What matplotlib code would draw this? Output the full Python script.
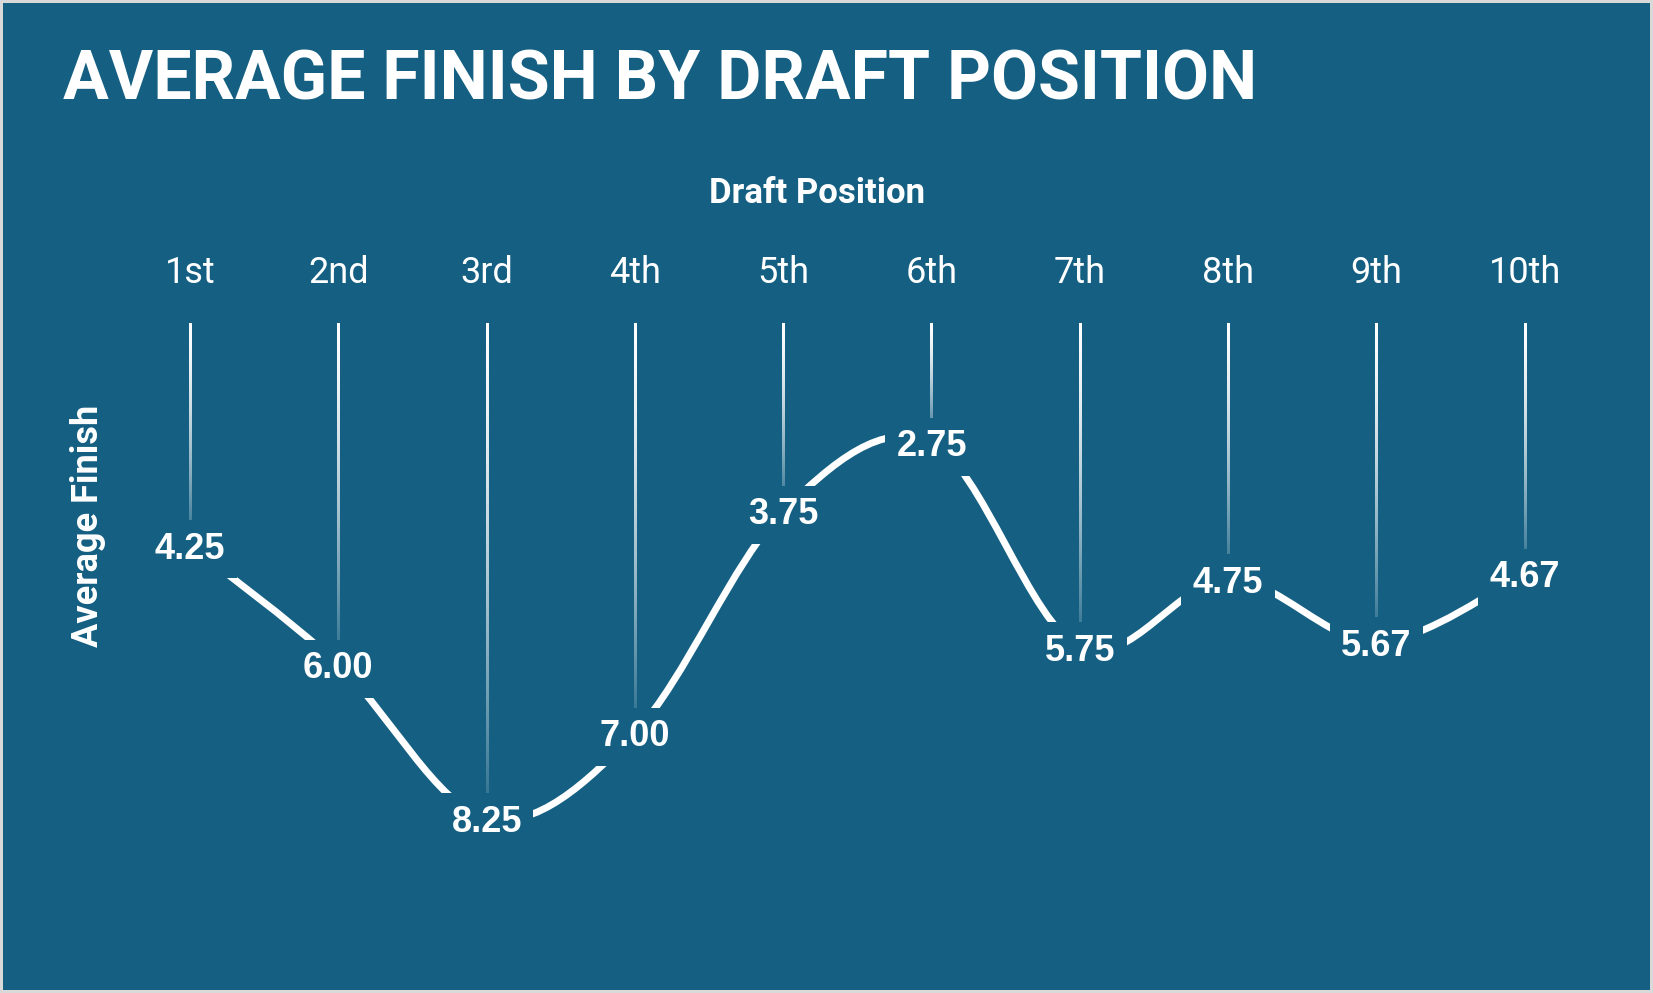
import numpy as np
import matplotlib
matplotlib.use('Agg')
import matplotlib.pyplot as plt
from matplotlib.path import Path
from matplotlib.patches import PathPatch, Rectangle

# data
positions = ['1st', '2nd', '3rd', '4th', '5th', '6th', '7th', '8th', '9th', '10th']
avg_finish = [4.25, 6.00, 8.25, 7.00, 3.75, 2.75, 5.75, 4.75, 5.67, 4.67]

BG = '#156082'
W, H = 1653, 993

fig = plt.figure(figsize=(W / 100, H / 100), dpi=100)
fig.patch.set_facecolor('#d9d9d9')
fig.add_artist(Rectangle((3 / W, 3 / H), (W - 6) / W, (H - 6) / H,
                         transform=fig.transFigure, facecolor=BG,
                         edgecolor='none', zorder=0))

ax = fig.add_axes([0.0701, 0.090, 0.8972, 0.5847])
ax.set_facecolor('none')
for s in ax.spines.values():
    s.set_visible(False)

x = np.arange(len(avg_finish))
y = np.array(avg_finish)
y_top = 1.0

# drop lines from the top, fading out toward each point (gradient strips)
t = np.linspace(0, 1, 200)
grad = np.ones((200, 1, 4))
grad[:, 0, 3] = 1 - 0.92 * t ** 1.5
half_w = 0.0075  # ~1 px either side
for xi, yi in zip(x, y):
    ax.imshow(grad, extent=[xi - half_w, xi + half_w, yi, y_top],
              origin='upper', aspect='auto', interpolation='bilinear', zorder=1)

# smoothed line (cubic bezier through the points, like Excel's smoothing)
pts = np.column_stack([x, y]).astype(float)
n = len(pts)
verts = [pts[0]]
codes = [Path.MOVETO]
for i in range(n - 1):
    p0 = pts[max(i - 1, 0)]
    p1 = pts[i]
    p2 = pts[i + 1]
    p3 = pts[min(i + 2, n - 1)]
    verts += [p1 + (p2 - p0) / 6, p2 - (p3 - p1) / 6, p2]
    codes += [Path.CURVE4] * 3
ax.add_patch(PathPatch(Path(verts, codes), facecolor='none', edgecolor='white',
                       linewidth=5, capstyle='butt', zorder=2))

# value labels with background boxes that cut the lines
for xi, yi in zip(x, y):
    ax.text(xi, yi, f'{yi:.2f}', ha='center', va='center_baseline', fontsize=26,
            fontweight='bold', family=['Liberation Sans', 'DejaVu Sans'],
            color='white', zorder=4,
            bbox=dict(boxstyle='square,pad=0.32', facecolor=BG, edgecolor='none'))

ax.set_xlim(-0.5, 9.5)
ax.set_ylim(9.5, 1.0)  # lower finish number = better, so axis is reversed

ax.set_xticks(x)
ax.set_xticklabels(positions, fontsize=26, family=['Roboto', 'DejaVu Sans'],
                   color='white')
ax.xaxis.tick_top()
ax.tick_params(axis='x', length=0, pad=23)
ax.set_yticks([])

fig.text(63 / W, 1 - 100 / H, 'AVERAGE FINISH BY DRAFT POSITION', fontsize=49,
         fontweight='bold', family=['Roboto', 'DejaVu Sans'], color='white',
         ha='left', va='baseline')
fig.text(817 / W, 1 - 203 / H, 'Draft Position', fontsize=25, fontweight='bold',
         family=['Roboto', 'DejaVu Sans'], color='white', ha='center', va='baseline')
fig.text(88 / W, 1 - 526 / H, 'Average Finish', fontsize=26, fontweight='bold',
         family=['Roboto', 'DejaVu Sans'], color='white', ha='center', va='center',
         rotation=90)

fig.savefig('out.png', dpi=100, facecolor=fig.get_facecolor())
